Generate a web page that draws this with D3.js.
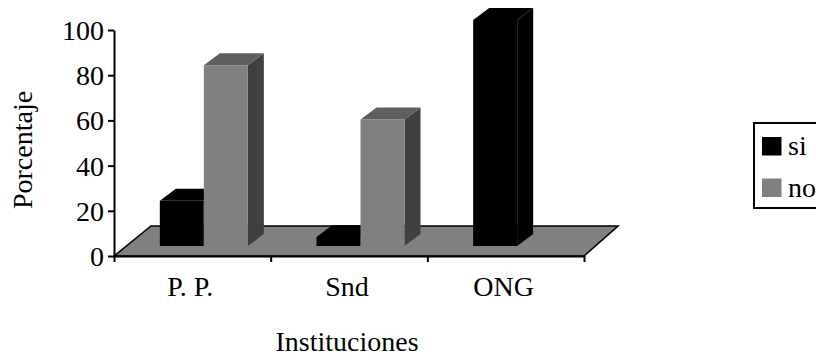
<!DOCTYPE html>
<html>
<head>
<meta charset="utf-8">
<script src="https://cdn.jsdelivr.net/npm/d3@7"></script>
<style>
  html, body { margin: 0; padding: 0; background: #fff; }
  svg { display: block; }
</style>
</head>
<body>
<svg id="chart" width="816" height="360"></svg>
<script>
// Data
const categories = ["P. P.", "Snd", "ONG"];
const seriesNames = ["si", "no"];
const siValues = [20, 4, 100];
const noValues = [80, 56, 0];
const yTicks = [0, 20, 40, 60, 80, 100];
const axisTitleX = "Instituciones";
const axisTitleY = "Porcentaje";

const values = { si: siValues, no: noValues };

// Face colours: front, top, side
const palette = {
  si: { front: "#000000", top: "#000000", side: "#000000" },
  no: { front: "#808080", top: "#5f5f5f", side: "#404040" }
};

const SERIF = "'Liberation Serif', 'Times New Roman', Times, 'DejaVu Serif', serif";
const FONT = 28;

const svg = d3.select("#chart")
  .attr("font-family", SERIF)
  .style("font-family", SERIF);

const left = 114, right = 584, base = 256, topY = 30;

const y = d3.scaleLinear().domain([0, 100]).range([base, topY]);
const x = d3.scaleBand().domain(categories).range([left, right]).padding(0);
const xs = d3.scaleBand().domain(seriesNames).range([0, x.bandwidth()])
  .paddingInner(0).paddingOuter(0.78);
const edges = d3.scaleLinear().domain([0, categories.length]).range([left, right]);

// Depth geometry for the pseudo-3D look
const floorDX = 37, floorDY = -30;
const barOffX = 11.5, barOffY = -10;
const barDX = 16, barDY = -12;

const pts = a => a.map(p => p.join(",")).join(" ");

// Floor
svg.append("polygon")
  .attr("points", pts([
    [left, base], [left + floorDX, base + floorDY],
    [right + floorDX - 3, base + floorDY], [right, base]
  ]))
  .attr("fill", "#808080")
  .attr("stroke", "#000")
  .attr("stroke-width", 1.6);

// Bars
const g = svg.append("g");
categories.forEach((cat, i) => {
  seriesNames.forEach(s => {
    const v = values[s][i];
    if (v <= 0) return;
    const x0 = x(cat) + xs(s) + barOffX;
    const w = xs.bandwidth();
    const yt = y(v) + barOffY;
    const yb = y(0) + barOffY;
    const c = palette[s];
    g.append("polygon")
      .attr("points", pts([[x0 + w, yt], [x0 + w + barDX, yt + barDY], [x0 + w + barDX, yb + barDY], [x0 + w, yb]]))
      .attr("fill", c.side);
    g.append("polygon")
      .attr("points", pts([[x0, yt], [x0 + barDX, yt + barDY], [x0 + w + barDX, yt + barDY], [x0 + w, yt]]))
      .attr("fill", c.top);
    g.append("rect")
      .attr("x", x0).attr("y", yt)
      .attr("width", w).attr("height", yb - yt)
      .attr("fill", c.front);
  });
});

// Y axis
const yAxis = svg.append("g")
  .attr("transform", `translate(${left},0)`)
  .call(d3.axisLeft(y).tickValues(yTicks).tickSize(6).tickSizeOuter(0).tickPadding(4).tickFormat(d3.format("d")));
yAxis.attr("font-family", SERIF).attr("font-size", FONT);
yAxis.select(".domain").attr("stroke", "#000").attr("stroke-width", 2);
yAxis.selectAll(".tick line").attr("stroke", "#000").attr("stroke-width", 2);
yAxis.selectAll(".tick text")
  .attr("font-size", FONT)
  .attr("font-family", SERIF)
  .attr("fill", "#000")
  .attr("dy", "0.34em");

// X axis (boundary ticks) + category labels
const xAxis = svg.append("g")
  .attr("transform", `translate(0,${base})`)
  .call(d3.axisBottom(edges).tickValues(d3.range(categories.length + 1)).tickSize(6).tickSizeOuter(0).tickFormat(""));
xAxis.select(".domain").attr("stroke", "#000").attr("stroke-width", 2);
xAxis.selectAll(".tick line").attr("stroke", "#000").attr("stroke-width", 2);

svg.append("g").selectAll("text")
  .data(categories).join("text")
  .attr("x", d => x(d) + x.bandwidth() / 2 - 2)
  .attr("y", 296)
  .attr("text-anchor", "middle")
  .attr("font-family", SERIF)
  .attr("font-size", FONT)
  .text(d => d);

// Axis titles
svg.append("text")
  .attr("x", (left + right) / 2 - 2)
  .attr("y", 351)
  .attr("text-anchor", "middle")
  .attr("font-family", SERIF)
  .attr("font-size", FONT)
  .text(axisTitleX);

svg.append("text")
  .attr("transform", "translate(32,150) rotate(-90)")
  .attr("text-anchor", "middle")
  .attr("font-family", SERIF)
  .attr("font-size", FONT)
  .text(axisTitleY);

// Legend
const legend = svg.append("g");
legend.append("rect")
  .attr("x", 754).attr("y", 123)
  .attr("width", 90).attr("height", 85)
  .attr("fill", "#fff").attr("stroke", "#000").attr("stroke-width", 2);
seriesNames.forEach((s, i) => {
  const yy = 137 + i * 41.5;
  legend.append("rect")
    .attr("x", 762).attr("y", yy)
    .attr("width", 19.5).attr("height", 18.5)
    .attr("fill", palette[s].front);
  legend.append("text")
    .attr("x", 788).attr("y", yy + 18)
    .attr("font-family", SERIF)
    .attr("font-size", FONT)
    .text(s);
});
</script>
</body>
</html>
